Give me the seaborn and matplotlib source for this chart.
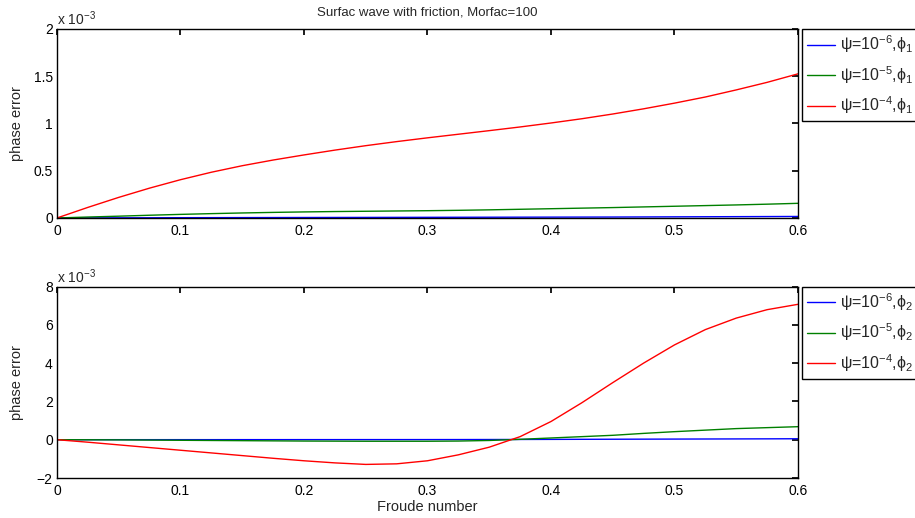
import matplotlib
matplotlib.use("Agg")  # headless backend
import matplotlib.pyplot as plt
from matplotlib.ticker import FuncFormatter
import seaborn as sns
import pandas as pd

# ── Data (phase error in units of 1e-3) ──────────────────────────────────────
froude = [0.0, 0.025, 0.05, 0.075, 0.1, 0.125, 0.15, 0.175, 0.2, 0.225, 0.25,
          0.275, 0.3, 0.325, 0.35, 0.375, 0.4, 0.425, 0.45, 0.475, 0.5,
          0.525, 0.55, 0.575, 0.6]

# phi_1 (top panel)
phi1_psi6 = [0.0, 0.0007, 0.0014, 0.002, 0.003, 0.0035, 0.004, 0.0045, 0.005,
             0.0055, 0.006, 0.0065, 0.007, 0.0075, 0.008, 0.0085, 0.009,
             0.0095, 0.010, 0.011, 0.012, 0.013, 0.014, 0.015, 0.016]
phi1_psi5 = [0.0, 0.010, 0.019, 0.029, 0.038, 0.046, 0.053, 0.059, 0.064,
             0.068, 0.071, 0.074, 0.077, 0.081, 0.086, 0.092, 0.098, 0.104,
             0.110, 0.117, 0.124, 0.131, 0.138, 0.146, 0.155]
phi1_psi4 = [0.0, 0.112, 0.218, 0.316, 0.405, 0.484, 0.553, 0.613, 0.667,
             0.718, 0.765, 0.808, 0.848, 0.886, 0.924, 0.963, 1.005, 1.050,
             1.100, 1.155, 1.215, 1.280, 1.355, 1.435, 1.525]

# phi_2 (bottom panel)
phi2_psi6 = [0.0, 0.001, 0.002, 0.002, 0.003, 0.003, 0.004, 0.004, 0.005,
             0.005, 0.006, 0.006, 0.007, 0.008, 0.010, 0.013, 0.017, 0.021,
             0.025, 0.029, 0.033, 0.037, 0.041, 0.045, 0.050]
phi2_psi5 = [0.0, -0.005, -0.010, -0.020, -0.030, -0.040, -0.050, -0.060,
             -0.070, -0.075, -0.080, -0.080, -0.080, -0.070, -0.040, 0.020,
             0.090, 0.160, 0.230, 0.330, 0.420, 0.500, 0.580, 0.630, 0.680]
phi2_psi4 = [0.0, -0.13, -0.27, -0.41, -0.55, -0.69, -0.83, -0.97, -1.10,
             -1.21, -1.29, -1.26, -1.10, -0.79, -0.39, 0.16, 0.95, 1.93,
             2.98, 4.00, 4.95, 5.75, 6.35, 6.79, 7.07]

series_names = ["psi6", "psi5", "psi4"]
colors = ["#0000ff", "#008000", "#ff0000"]
labels_top = [r"ψ=10$^{-6}$,ϕ$_1$", r"ψ=10$^{-5}$,ϕ$_1$", r"ψ=10$^{-4}$,ϕ$_1$"]
labels_bot = [r"ψ=10$^{-6}$,ϕ$_2$", r"ψ=10$^{-5}$,ϕ$_2$", r"ψ=10$^{-4}$,ϕ$_2$"]


def long_frame(series):
    rows = []
    for name, vals in zip(series_names, series):
        for f, v in zip(froude, vals):
            rows.append({"froude": f, "err": v * 1e-3, "run": name})
    return pd.DataFrame(rows)


# ── Style (MATLAB-ish) ────────────────────────────────────────────────────────
sns.set_theme(style="white")
plt.rcParams.update({
    "font.family": ["Liberation Sans", "DejaVu Sans"],
    "mathtext.fontset": "custom",
    "mathtext.rm": "Liberation Sans",
    "mathtext.it": "Liberation Sans:italic",
    "axes.edgecolor": "black",
    "axes.linewidth": 1.0,
    "xtick.direction": "in",
    "ytick.direction": "in",
    "xtick.top": True,
    "ytick.right": True,
    "xtick.major.size": 4,
    "ytick.major.size": 4,
    "xtick.color": "black",
    "ytick.color": "black",
    "xtick.labelsize": 10,
    "ytick.labelsize": 10,
})

fig = plt.figure(figsize=(9.15, 5.18), dpi=100)
ax1 = fig.add_axes([0.0623, 0.5792, 0.8098, 0.3649])
ax2 = fig.add_axes([0.0623, 0.0772, 0.8098, 0.3697])

milli = FuncFormatter(lambda v, _: f"{v * 1e3:g}".replace("-", "\u2212"))
tick_fmt = FuncFormatter(lambda v, _: f"{v:g}")


def draw_panel(ax, series, labels, ylim, yticks):
    df = long_frame(series)
    sns.lineplot(data=df, x="froude", y="err", hue="run",
                 hue_order=series_names, palette=colors, estimator=None,
                 linewidth=1.0, legend=False, ax=ax)
    ax.set_xlim(0, 0.6)
    ax.set_ylim(*ylim)
    ax.set_xticks([0, 0.1, 0.2, 0.3, 0.4, 0.5, 0.6])
    ax.set_yticks(yticks)
    ax.xaxis.set_major_formatter(tick_fmt)
    ax.yaxis.set_major_formatter(milli)
    ax.tick_params(axis="x", pad=4)
    ax.tick_params(axis="y", pad=3)
    ax.set_xlabel("")
    ax.set_ylabel("phase error", fontsize=10.5)
    ax.yaxis.set_label_coords(-0.045, 0.5)
    ax.text(0.0, 1.005, r"x 10$^{-3}$", transform=ax.transAxes,
            ha="left", va="bottom", fontsize=10)
    leg = ax.legend(ax.lines[:3], labels, loc="upper left",
                    bbox_to_anchor=(1.006, 1.0), borderaxespad=0,
                    fontsize=11.5, frameon=True, fancybox=False,
                    handlelength=1.75, handletextpad=0.3, labelspacing=0.55,
                    borderpad=0.3)
    leg.get_frame().set_edgecolor("black")
    leg.get_frame().set_linewidth(1.0)
    leg.get_frame().set_alpha(1.0)


draw_panel(ax1, [phi1_psi6, phi1_psi5, phi1_psi4], labels_top,
           (0, 2e-3), [0, 0.5e-3, 1e-3, 1.5e-3, 2e-3])
ax1.set_title("Surfac wave with friction, Morfac=100", fontsize=9.5, pad=10)

draw_panel(ax2, [phi2_psi6, phi2_psi5, phi2_psi4], labels_bot,
           (-2e-3, 8e-3), [-2e-3, 0, 2e-3, 4e-3, 6e-3, 8e-3])
ax2.set_xlabel("Froude number", fontsize=10.5, labelpad=2)

fig.savefig("out.png", dpi=100)
plt.close(fig)
